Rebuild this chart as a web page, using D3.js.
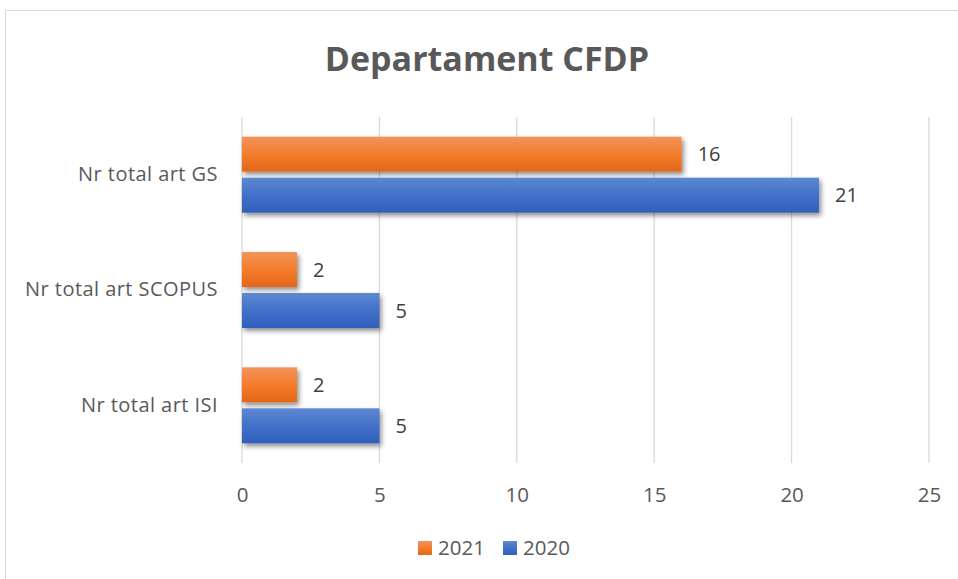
<!DOCTYPE html>
<html>
<head>
<meta charset="utf-8">
<script src="https://cdn.jsdelivr.net/npm/d3@7"></script>
<style>
  html, body { margin: 0; padding: 0; background: #fff; }
  svg { display: block; }
  text { font-family: "Open Sans", "Noto Sans", sans-serif; }
</style>
</head>
<body>
<svg id="chart" width="958" height="579"></svg>
<script>
const categories = ["Nr total art GS", "Nr total art SCOPUS", "Nr total art ISI"];
const seriesNames = ["2021", "2020"];
const values2021 = [16, 2, 2];
const values2020 = [21, 5, 5];
const xTicks = [0, 5, 10, 15, 20, 25];
const title = "Departament CFDP";

const svg = d3.select("#chart");
const W = 958, H = 579;

svg.append("rect").attr("width", W).attr("height", H).attr("fill", "#fff");
svg.append("rect").attr("x", 5.5).attr("y", 10.5).attr("width", 1000).attr("height", 1000)
  .attr("fill", "none").attr("stroke", "#d9d9d9").attr("stroke-width", 1);

const defs = svg.append("defs");
function grad(id, stops) {
  const g = defs.append("linearGradient").attr("id", id)
    .attr("x1", 0).attr("y1", 0).attr("x2", 0).attr("y2", 1);
  stops.forEach(s => g.append("stop").attr("offset", s[0]).attr("stop-color", s[1]));
}
grad("g2021", [[0, "#F2935C"], [0.5, "#F47D2A"], [1, "#E3661A"]]);
grad("g2020", [[0, "#5E88D3"], [0.5, "#4270C8"], [1, "#305FBD"]]);
const f = defs.append("filter").attr("id", "shadow")
  .attr("x", "-10%").attr("y", "-30%").attr("width", "130%").attr("height", "180%");
f.append("feDropShadow").attr("dx", 2).attr("dy", 3).attr("stdDeviation", 2.5)
  .attr("flood-color", "#000").attr("flood-opacity", 0.45);

const x = d3.scaleLinear().domain([0, 25]).range([242, 929]);
const y0 = d3.scaleBand().domain(categories).range([117, 463]);
const y1 = d3.scaleBand().domain(seriesNames).range([0, y0.bandwidth()])
  .paddingInner(0.146).paddingOuter(0.48);

// gridlines
svg.append("g").selectAll("line").data(xTicks).join("line")
  .attr("x1", d => x(d)).attr("x2", d => x(d))
  .attr("y1", 117).attr("y2", 463)
  .attr("stroke", "#d9d9d9").attr("stroke-width", 1.3);

// x axis labels
const xAxis = d3.axisBottom(x).tickValues(xTicks).tickSize(0).tickPadding(0);
const gx = svg.append("g").attr("transform", "translate(0,494.5)").call(xAxis);
gx.select(".domain").remove();
gx.selectAll("text").attr("font-size", 20.5).attr("fill", "#595959")
  .attr("font-family", "'Open Sans', sans-serif").attr("dy", "0.35em").attr("y", 0);

// y axis labels
const yAxis = d3.axisLeft(y0).tickSize(0).tickPadding(0);
const gy = svg.append("g").attr("transform", "translate(218,0)").call(yAxis);
gy.select(".domain").remove();
gy.selectAll("text").attr("font-size", 20).attr("fill", "#595959")
  .attr("letter-spacing", "0.45px")
  .attr("font-family", "'Open Sans', sans-serif");

const data = categories.map((c, i) => ({ cat: c, vals: [
  { s: "2021", v: values2021[i] }, { s: "2020", v: values2020[i] }] }));

const groups = svg.append("g").selectAll("g").data(data).join("g")
  .attr("transform", d => `translate(0,${y0(d.cat)})`);

groups.selectAll("rect").data(d => d.vals).join("rect")
  .attr("x", x(0)).attr("y", d => y1(d.s))
  .attr("width", d => x(d.v) - x(0)).attr("height", y1.bandwidth())
  .attr("fill", d => `url(#g${d.s})`).attr("filter", "url(#shadow)");

groups.selectAll("text.lbl").data(d => d.vals).join("text").attr("class", "lbl")
  .attr("x", d => x(d.v) + 16).attr("y", d => y1(d.s) + y1.bandwidth() / 2)
  .attr("dy", "0.36em").attr("font-size", 20).attr("fill", "#404040")
  .text(d => d.v);

// title
svg.append("text").attr("x", 487).attr("y", 71).attr("text-anchor", "middle")
  .attr("font-size", 34).attr("font-weight", "bold").attr("fill", "#595959")
  .text(title);

// legend
const legend = svg.append("g");
const legX = [418, 503];
seriesNames.forEach((s, i) => {
  legend.append("rect").attr("x", legX[i]).attr("y", 541).attr("width", 14).attr("height", 14)
    .attr("fill", `url(#g${s})`);
  legend.append("text").attr("x", legX[i] + 20).attr("y", 555)
    .attr("font-size", 20.5).attr("fill", "#595959").text(s);
});
</script>
</body>
</html>
